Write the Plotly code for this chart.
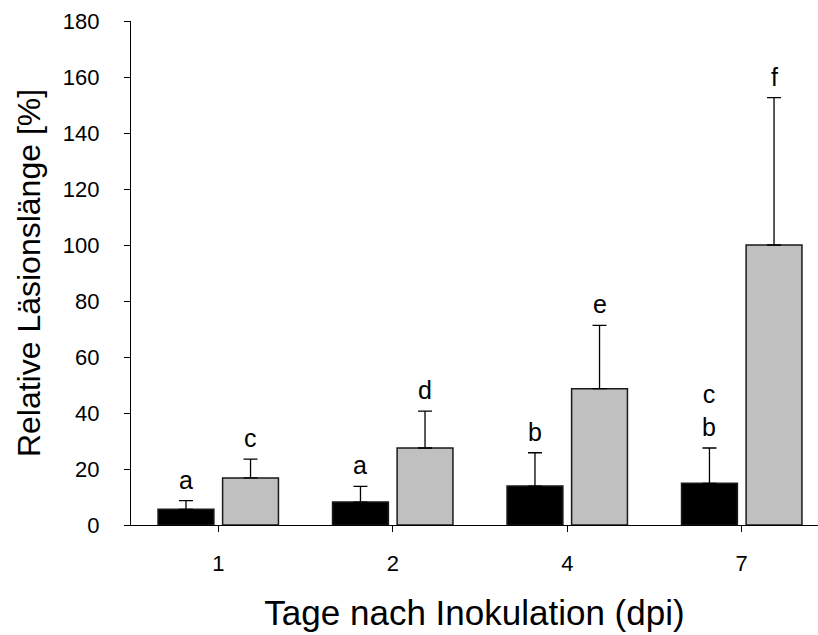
import plotly.graph_objects as go

# Days post inoculation (categories)
days = ["1", "2", "4", "7"]

# Relative lesion length [%] and upper standard deviation
black_vals = [5.6, 8.2, 13.9, 14.9]
black_err = [3.1, 5.6, 11.9, 12.6]
grey_vals = [16.8, 27.5, 48.7, 100.0]
grey_err = [6.7, 13.2, 22.6, 52.6]

# Significance letters above each bar
black_letters = ["a", "a", "b", "c<br>b"]
grey_letters = ["c", "d", "e", "f"]

FONT = "Liberation Sans, Arial, sans-serif"

fig = go.Figure()

fig.add_trace(go.Bar(
    x=days, y=black_vals, width=0.32, offset=-0.345,
    marker=dict(color="#000000", line=dict(color="#1a1a1a", width=1.5)),
    error_y=dict(type="data", array=black_err, arrayminus=[0] * 4,
                 symmetric=False, color="#000000", thickness=1.3, width=7),
    showlegend=False,
))
fig.add_trace(go.Bar(
    x=days, y=grey_vals, width=0.32, offset=0.025,
    marker=dict(color="#c0c0c0", line=dict(color="#1a1a1a", width=1.5)),
    error_y=dict(type="data", array=grey_err, arrayminus=[0] * 4,
                 symmetric=False, color="#000000", thickness=1.3, width=7),
    showlegend=False,
))

# letters placed just above the error bar caps
for i, d in enumerate(days):
    for vals, errs, letters, off in (
        (black_vals, black_err, black_letters, -0.185),
        (grey_vals, grey_err, grey_letters, 0.185),
    ):
        fig.add_annotation(
            x=i + off, y=vals[i] + errs[i], xref="x", yref="y",
            text=letters[i], showarrow=False, yanchor="bottom",
            yshift=5, font=dict(family=FONT, size=25, color="#000000"),
        )

fig.update_layout(
    barmode="overlay",
    width=818, height=635,
    margin=dict(l=131, r=0, t=21, b=110),
    paper_bgcolor="white", plot_bgcolor="white",
    font=dict(family=FONT, color="#000000"),
    xaxis=dict(
        type="category", range=[-0.5, 3.437],
        showline=True, linecolor="#000000", linewidth=1.3,
        ticks="outside", ticklen=6, tickwidth=1.3, tickcolor="#000000",
        showgrid=False, zeroline=False,
        tickfont=dict(family=FONT, size=22),
        ticklabelstandoff=12,
        title=dict(text="Tage nach Inokulation (dpi)",
                   font=dict(family=FONT, size=35), standoff=25),
    ),
    yaxis=dict(
        range=[0, 180], tick0=0, dtick=20,
        showline=True, linecolor="#000000", linewidth=1.3,
        ticks="outside", ticklen=6, tickwidth=1.3, tickcolor="#000000",
        showgrid=False, zeroline=False,
        tickfont=dict(family=FONT, size=22),
        ticklabelstandoff=20,
        title=dict(text="Relative Läsionslänge [%]",
                   font=dict(family=FONT, size=32), standoff=12),
    ),
)

fig.write_html("out.html")
